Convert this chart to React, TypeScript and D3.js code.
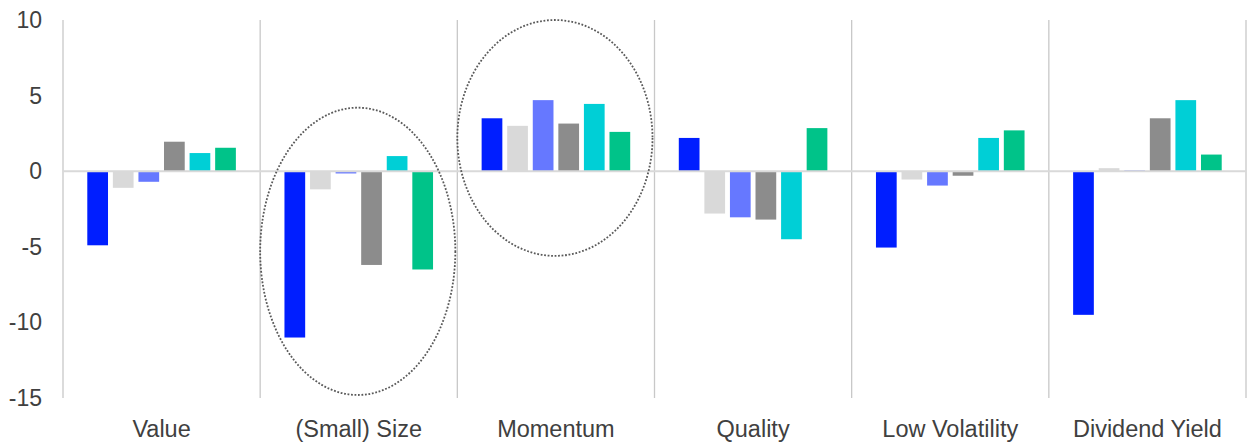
import React from "react";
import * as d3 from "d3";

const categories = ["Value", "(Small) Size", "Momentum", "Quality", "Low Volatility", "Dividend Yield"];
const seriesNames = ["S1", "S2", "S3", "S4", "S5", "S6"];
const seriesColors = ["#001EFF", "#D9D9D9", "#6678FF", "#8C8C8C", "#00CFD6", "#00C389"];
// values[series][category]
const s1 = [-4.9, -11.0, 3.5, 2.2, -5.05, -9.5];
const s2 = [-1.1, -1.2, 3.0, -2.8, -0.55, 0.2];
const s3 = [-0.7, -0.15, 4.7, -3.05, -0.95, 0.05];
const s4 = [1.95, -6.2, 3.15, -3.2, -0.3, 3.5];
const s5 = [1.2, 1.0, 4.45, -4.5, 2.2, 4.7];
const s6 = [1.55, -6.5, 2.6, 2.85, 2.7, 1.1];
const seriesValues = [s1, s2, s3, s4, s5, s6];
const yTicks = [10, 5, 0, -5, -10, -15];
const highlighted = ["(Small) Size", "Momentum"];
// ellipse vertical extents in data units
const ellipseTop = [4.2, 10];
const ellipseBottom = [-14.8, -5.6];

const W = 1257;
const H = 443;
const left = 63;
const right = 1246;
const top = 20;
const bottom = 398;

export default function App() {
  const x = d3.scaleBand<string>().domain(categories).range([left, right]).paddingInner(0).paddingOuter(0);
  const y = d3.scaleLinear().domain([-15, 10]).range([bottom, top]);
  const inner = d3
    .scaleBand<string>()
    .domain(seriesNames)
    .range([0, x.bandwidth()])
    .paddingInner(0.19)
    .paddingOuter(0.95);
  const font = "'Liberation Sans', Arial, sans-serif";
  const textColor = "#404040";

  return (
    <svg width={W} height={H} style={{ position: "absolute", left: 0, top: 0 }}>
      <rect x={0} y={0} width={W} height={H} fill="#fff" />
      {/* separators */}
      {categories.map((c, i) => (
        <line key={"sep" + i} x1={x(c)!} x2={x(c)!} y1={top} y2={bottom} stroke="#c8c8c8" strokeWidth={1.3} />
      ))}
      <line x1={right} x2={right} y1={top} y2={bottom} stroke="#c8c8c8" strokeWidth={1.3} />
      {/* bars */}
      {seriesValues.map((vals, si) =>
        vals.map((v, ci) => {
          const bx = x(categories[ci])! + inner(seriesNames[si])!;
          const y0 = y(0);
          const y1 = y(v);
          return (
            <rect
              key={si + "-" + ci}
              x={bx}
              y={Math.min(y0, y1)}
              width={inner.bandwidth()}
              height={Math.abs(y1 - y0)}
              fill={seriesColors[si]}
            />
          );
        })
      )}
      {/* zero line */}
      <line x1={left} x2={right} y1={y(0)} y2={y(0)} stroke="#d9d9d9" strokeWidth={2} />
      {/* y ticks */}
      {yTicks.map((t) => (
        <text
          key={"t" + t}
          x={42}
          y={y(t)}
          dy="0.35em"
          textAnchor="end"
          fontFamily={font}
          fontSize={23}
          fill={textColor}
        >
          {t}
        </text>
      ))}
      {/* category labels */}
      {categories.map((c) => (
        <text
          key={"c" + c}
          x={x(c)! + x.bandwidth() / 2}
          y={437}
          textAnchor="middle"
          fontFamily={font}
          fontSize={23.5}
          fill={textColor}
        >
          {c}
        </text>
      ))}
      {/* highlight ellipses */}
      {highlighted.map((c, i) => {
        const cy = (y(ellipseTop[i]) + y(ellipseBottom[i])) / 2;
        const ry = (y(ellipseBottom[i]) - y(ellipseTop[i])) / 2;
        return (
          <ellipse
            key={"e" + c}
            cx={x(c)! + x.bandwidth() / 2 - 1}
            cy={cy}
            rx={x.bandwidth() / 2 - 1}
            ry={ry}
            fill="none"
            stroke="#595959"
            strokeWidth={1.8}
            strokeDasharray="1.8 1.7"
          />
        );
      })}
    </svg>
  );
}
